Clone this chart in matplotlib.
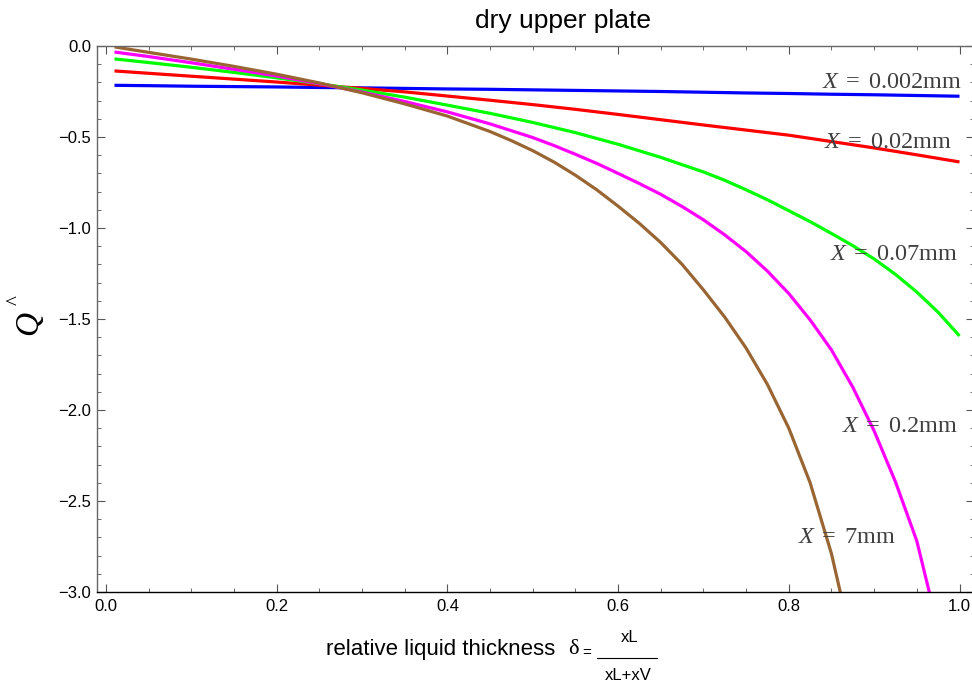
import matplotlib
matplotlib.use("Agg")
import matplotlib.pyplot as plt
from matplotlib.lines import Line2D
from matplotlib.ticker import MultipleLocator

plt.rcParams.update({"font.family": "Liberation Sans",
                     "mathtext.fontset": "custom",
                     "mathtext.rm": "Liberation Serif",
                     "mathtext.it": "Liberation Serif:italic",
                     "mathtext.bf": "Liberation Serif:bold"})

# ---- data ----
delta = [0.01, 0.05, 0.10, 0.15, 0.20, 0.25, 0.30, 0.35, 0.40, 0.45, 0.50,
         0.55, 0.60, 0.65, 0.70, 0.75, 0.80, 0.85, 0.90, 0.95, 1.00]
q_0002 = [-0.216, -0.218, -0.221, -0.223, -0.225, -0.228, -0.230, -0.233, -0.236, -0.238, -0.241,
          -0.244, -0.247, -0.250, -0.254, -0.258, -0.261, -0.265, -0.268, -0.272, -0.276]
q_002 = [-0.137, -0.150, -0.166, -0.182, -0.198, -0.215, -0.233, -0.252, -0.275, -0.298, -0.322,
         -0.348, -0.376, -0.405, -0.434, -0.462, -0.490, -0.525, -0.560, -0.598, -0.637]
delta_007 = [0.01, 0.05, 0.10, 0.15, 0.20, 0.25, 0.30, 0.35, 0.40, 0.45, 0.50, 0.55, 0.60, 0.65,
             0.70, 0.725, 0.75, 0.775, 0.80, 0.825, 0.85, 0.875, 0.90, 0.925, 0.95, 0.975, 1.00]
q_007 = [-0.071, -0.091, -0.117, -0.145, -0.175, -0.207, -0.242, -0.281, -0.325, -0.370, -0.420,
         -0.476, -0.540, -0.612, -0.692, -0.738, -0.790, -0.845, -0.905, -0.965, -1.030, -1.097,
         -1.170, -1.255, -1.352, -1.463, -1.593]
delta_02 = [0.01, 0.05, 0.10, 0.15, 0.20, 0.25, 0.30, 0.35, 0.40, 0.45, 0.50, 0.525, 0.55, 0.575,
            0.60, 0.625, 0.65, 0.675, 0.70, 0.725, 0.75, 0.775, 0.80, 0.825, 0.85, 0.875, 0.90,
            0.925, 0.95, 0.975]
q_02 = [-0.033, -0.058, -0.092, -0.128, -0.165, -0.207, -0.253, -0.305, -0.362, -0.428, -0.503,
        -0.547, -0.595, -0.645, -0.700, -0.756, -0.815, -0.882, -0.955, -1.038, -1.130, -1.237,
        -1.360, -1.505, -1.670, -1.875, -2.115, -2.395, -2.720, -3.200]
delta_7 = [0.01, 0.05, 0.10, 0.15, 0.20, 0.25, 0.30, 0.35, 0.40, 0.45, 0.475, 0.50, 0.525, 0.55,
           0.575, 0.60, 0.625, 0.65, 0.675, 0.70, 0.725, 0.75, 0.775, 0.80, 0.825, 0.85, 0.875]
q_7 = [-0.005, -0.035, -0.072, -0.112, -0.155, -0.203, -0.257, -0.318, -0.385, -0.470, -0.520,
       -0.575, -0.638, -0.710, -0.790, -0.880, -0.975, -1.080, -1.200, -1.340, -1.490, -1.660,
       -1.860, -2.100, -2.400, -2.790, -3.300]

labels = ["0.002", "0.02", "0.07", "0.2", "7"]

W, H = 972, 687
fx = lambda px: px / W
fy = lambda py: 1 - py / H

fig = plt.figure(figsize=(9.72, 6.87), dpi=100)
ax = fig.add_axes([fx(97), fy(592), fx(973.5) - fx(97), fy(46) - fy(592)])

series = [(delta, q_0002, (0, 0, 1)), (delta, q_002, (1, 0, 0)), (delta_007, q_007, (0, 1, 0)),
          (delta_02, q_02, (1, 0, 1)), (delta_7, q_7, (0.6, 0.4, 0.2))]
for xs, ys, col in series:
    ax.plot(xs, ys, color=col, lw=2.3, solid_capstyle="butt", solid_joinstyle="round")

ax.set_xlim(-0.0105, 1.0164)
ax.set_ylim(-3.0, 0.0)
ax.xaxis.set_major_locator(MultipleLocator(0.2))
ax.xaxis.set_minor_locator(MultipleLocator(0.05))
ax.yaxis.set_major_locator(MultipleLocator(0.5))
ax.yaxis.set_minor_locator(MultipleLocator(0.1))
ax.xaxis.set_major_formatter(lambda v, p: f"{v:.1f}")
ax.yaxis.set_major_formatter(lambda v, p: f"{v:.1f}".replace("-", "\u2212") if abs(v) > 1e-9 else "0.0")
ax.tick_params(which="both", direction="in", top=True, right=True, labelsize=12,
               color="#555555")
ax.tick_params(which="major", length=5.5, width=0.8)
ax.tick_params(which="minor", length=3, width=0.6)
ax.tick_params(axis="y", pad=4)
ax.tick_params(axis="x", pad=5)
for s in ["left", "top", "right"]:
    ax.spines[s].set_color("#666666")
ax.spines["bottom"].set_color("black")
for s in ax.spines.values():
    s.set_linewidth(1.0)

# curve labels (right edge and centre in pixels)
lab_pos = [(962, 82), (952, 142), (958, 254), (958, 426), (895, 537)]
for lab, (px, py) in zip(labels, lab_pos):
    fig.text(fx(px), fy(py), r"$X\;=\;" + lab + r"\mathrm{mm}$", ha="right", va="center",
             fontsize=17.5, color="#404040")

# title
fig.text(fx(563), fy(21), "dry upper plate", ha="center", va="center", fontsize=19)

# y label: Q with a caret superscript (rotated)
fig.text(fx(29), fy(323), "Q", rotation=90, ha="center", va="center", fontsize=24,
         family="Liberation Serif", style="italic")
fig.text(fx(16), fy(300), "^", rotation=90, ha="center", va="center", fontsize=15,
         family="Liberation Serif")

# x label with the fraction
fig.text(fx(555), fy(650), "relative liquid thickness", ha="right", va="center", fontsize=16)
fig.text(fx(568), fy(650), "\u03b4", ha="left", va="center", fontsize=16,
         family="Liberation Serif")
fig.text(fx(582), fy(653), "=", ha="left", va="center", fontsize=11)
fig.text(fx(630), fy(638), "xL", ha="center", va="center", fontsize=12)
fig.text(fx(628), fy(676), "xL+xV", ha="center", va="center", fontsize=12)
fig.add_artist(Line2D([fx(597), fx(657)], [fy(658), fy(658)], color="black", lw=0.8))

fig.savefig("out.png", dpi=100)
